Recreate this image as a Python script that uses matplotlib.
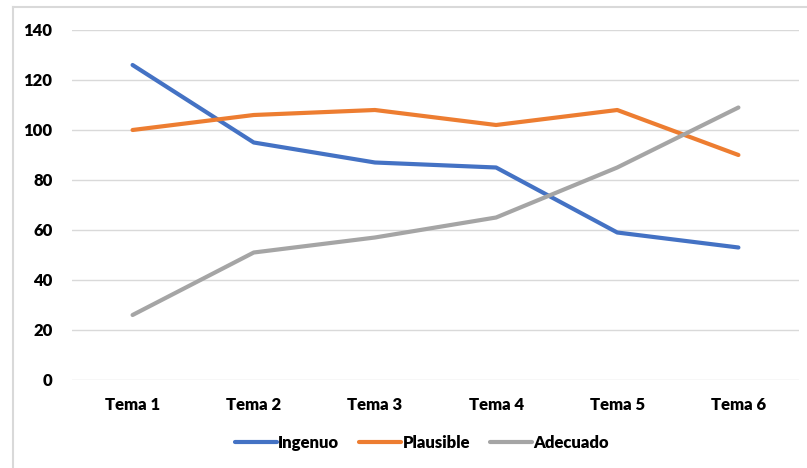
import matplotlib.pyplot as plt
from matplotlib.lines import Line2D

temas = ['Tema 1', 'Tema 2', 'Tema 3', 'Tema 4', 'Tema 5', 'Tema 6']
ingenuo = [126, 95, 87, 85, 59, 53]
plausible = [100, 106, 108, 102, 108, 90]
adecuado = [26, 51, 57, 65, 85, 109]

plt.rcParams['font.family'] = ['Lato', 'DejaVu Sans']

fig = plt.figure(figsize=(8.07, 4.68), dpi=100)
ax = fig.add_axes([72/807, 88/468, 727/807, 350/468])

x = range(len(temas))
ax.plot(x, ingenuo, color='#4472C4', lw=3, label='Ingenuo', solid_capstyle='round')
ax.plot(x, plausible, color='#ED7D31', lw=3, label='Plausible', solid_capstyle='round')
ax.plot(x, adecuado, color='#A5A5A5', lw=3, label='Adecuado', solid_capstyle='round')

ax.set_xlim(-0.5, 5.5)
ax.set_ylim(0, 140)
ax.set_yticks(range(0, 141, 20))
ax.set_xticks(list(x))
ax.set_xticklabels(temas)
ax.grid(axis='y', color='#D9D9D9', lw=1)
ax.set_axisbelow(True)
for s in ax.spines.values():
    s.set_visible(False)
ax.tick_params(length=0, labelsize=12)
ax.tick_params(axis='x', pad=12)
ax.tick_params(axis='y', pad=14)
for lbl in ax.get_xticklabels() + ax.get_yticklabels():
    lbl.set_fontweight('heavy')

leg = fig.legend(loc='center', bbox_to_anchor=(422/807, 25/468), ncol=3, frameon=False,
                 handlelength=2.5, handletextpad=0.1, columnspacing=1.2,
                 prop={'size': 12, 'weight': 'heavy'})

# chart area border (left and top edges)
fig.add_artist(Line2D([13/807, 13/807], [0, 461/468], color='#D9D9D9', lw=1.5))
fig.add_artist(Line2D([13/807, 1], [461/468, 461/468], color='#D9D9D9', lw=1.5))

fig.savefig('out.png', dpi=100)
